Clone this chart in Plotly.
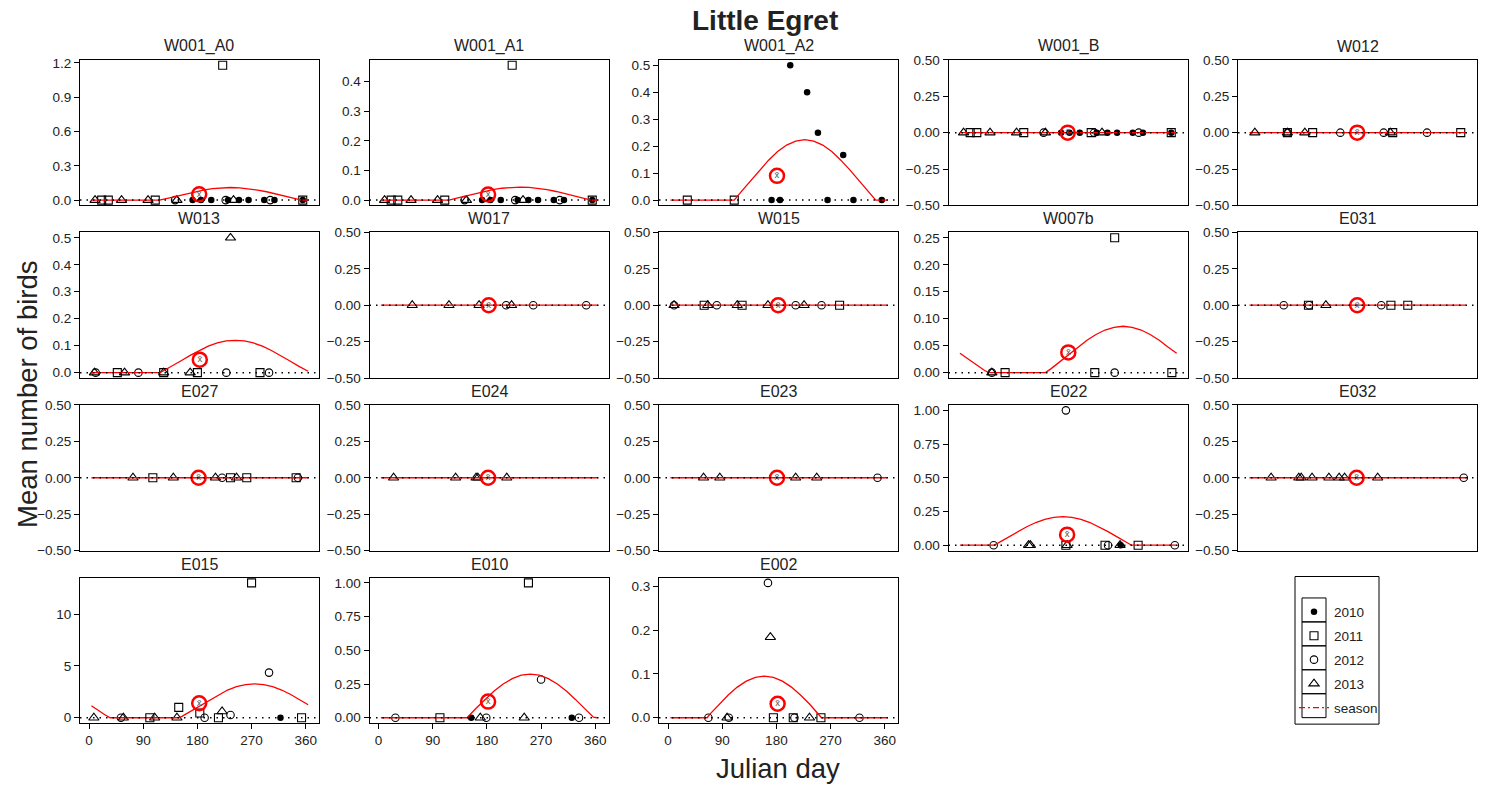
import plotly.graph_objects as go

# ---------------- data ----------------
sites = ["W001_A0", "W001_A1", "W001_A2", "W001_B", "W012",
         "W013", "W017", "W015", "W007b", "E031",
         "E027", "E024", "E023", "E022", "E032",
         "E015", "E010", "E002"]

years = ["2010", "2011", "2012", "2013"]

day_2010 = [
    [172, 186, 203, 231, 249, 265, 291, 308, 355],
    [172, 186, 203, 231, 249, 265, 291, 308, 355],
    [172, 186, 203, 231, 249, 265, 291, 308, 355],
    [172, 186, 203, 231, 249, 265, 291, 308, 355],
    [], [], [], [], [], [], [], [], [],
    [271],
    [],
    [318],
    [154, 321],
    [],
]
val_2010 = [
    [0, 0, 0, 0, 0, 0, 0, 0, 0],
    [0, 0, 0, 0, 0, 0, 0, 0, 0],
    [0, 0, 0.5, 0.4, 0.25, 0, 0.167, 0, 0],
    [0, 0, 0, 0, 0, 0, 0, 0, 0],
    [], [], [], [], [], [], [], [], [],
    [0],
    [],
    [0],
    [0, 0],
    [],
]

day_2011 = [
    [21, 32, 110, 222, 355],
    [21, 32, 110, 222, 355],
    [32, 110],
    [21, 32, 110, 222, 355],
    [67, 109, 242, 355],
    [47, 124, 180, 284],
    [],
    [60, 123, 285],
    [79, 228, 261, 356],
    [102, 239, 267],
    [106, 235, 262, 344],
    [],
    [],
    [180, 245, 300],
    [],
    [101, 149, 184, 215, 270, 353],
    [102, 249],
    [175, 208, 254],
]
val_2011 = [
    [0, 0, 0, 1.18, 0],
    [0, 0, 0, 0.455, 0],
    [0, 0],
    [0, 0, 0, 0, 0],
    [0, 0, 0, 0],
    [0, 0, 0, 0],
    [],
    [0, 0, 0],
    [0, 0, 0.25, 0],
    [0, 0, 0],
    [0, 0, 0, 0],
    [],
    [],
    [0, 0, 0],
    [],
    [0, 1.0, 0.45, 0, 13.0, 0],
    [0, 1.0],
    [0, 0, 0],
]

day_2012 = [
    [143, 227, 301],
    [143, 227, 301],
    [],
    [143, 227, 301],
    [67, 155, 227, 299],
    [11, 82, 228, 299],
    [212, 257, 345],
    [10, 81, 212, 255],
    [57, 261],
    [61, 103, 223],
    [221, 347],
    [],
    [348],
    [60, 180, 250, 361],
    [360],
    [53, 192, 235, 299],
    [28, 179, 270, 333],
    [67, 101, 166, 210, 318],
]
val_2012 = [
    [0, 0, 0],
    [0, 0, 0],
    [],
    [0, 0, 0],
    [0, 0, 0, 0],
    [0, 0, 0, 0],
    [0, 0, 0],
    [0, 0, 0, 0],
    [0, 0],
    [0, 0, 0],
    [0, 0],
    [],
    [0],
    [0, 1.0, 0, 0],
    [0],
    [0, 0, 0.26, 4.35],
    [0, 0, 0.284, 0],
    [0, 0, 0.308, 0, 0],
]

day_2013 = [
    [10, 54, 98, 146, 240],
    [10, 54, 98, 146, 240],
    [],
    [10, 54, 98, 146, 240],
    [13, 67, 96, 238],
    [9, 59, 124, 168, 235],
    [56, 117, 167, 221],
    [10, 66, 115, 166, 226],
    [57],
    [131],
    [73, 140, 210, 245],
    [25, 128, 162, 165, 213],
    [59, 86, 212, 247],
    [118, 121, 182, 270],
    [40, 86, 90, 108, 136, 153, 162, 217],
    [8, 57, 109, 146, 221],
    [169, 242],
    [98, 170, 235],
]
val_2013 = [
    [0, 0, 0, 0, 0],
    [0, 0, 0, 0, 0],
    [],
    [0, 0, 0, 0, 0],
    [0, 0, 0, 0],
    [0, 0, 0, 0, 0.5],
    [0, 0, 0, 0],
    [0, 0, 0, 0, 0],
    [0],
    [0],
    [0, 0, 0, 0],
    [0, 0, 0, 0, 0],
    [0, 0, 0, 0],
    [0, 0, 0, 0],
    [0, 0, 0, 0, 0, 0, 0, 0],
    [0, 0, 0, 0, 0.6],
    [0, 0],
    [0, 0.184, 0],
]

season_day = [
    [4, 117, 130, 145, 160, 175, 190, 205, 220, 235, 250, 265, 280, 295, 310, 325, 340, 353, 364],
    [4, 117, 130, 145, 160, 175, 190, 205, 220, 235, 250, 265, 280, 295, 310, 325, 340, 353, 364],
    [4, 110, 122, 137, 152, 167, 182, 197, 212, 227, 242, 257, 272, 287, 302, 317, 332, 345, 364],
    [4, 364],
    [4, 364],
    [4, 118, 123, 138, 153, 168, 183, 198, 213, 228, 243, 258, 273, 288, 303, 318, 333, 348, 364],
    [4, 364],
    [4, 364],
    [4, 15, 30, 45, 52, 146, 155, 170, 185, 200, 215, 230, 245, 260, 275, 290, 305, 320, 335, 350, 364],
    [4, 364],
    [4, 364],
    [4, 364],
    [4, 364],
    [4, 61, 70, 85, 100, 115, 130, 145, 160, 175, 190, 205, 220, 235, 250, 265, 280, 289, 364],
    [4, 364],
    [4, 15, 25, 35, 150, 155, 170, 185, 200, 215, 230, 245, 260, 275, 290, 305, 320, 335, 350, 364],
    [4, 147, 162, 177, 192, 207, 222, 237, 252, 267, 282, 297, 312, 327, 342, 357, 363],
    [4, 65, 70, 85, 100, 115, 130, 145, 160, 175, 190, 205, 220, 235, 250, 255, 364],
]
season_val = [
    [0, 0, 0.016, 0.035, 0.055, 0.073, 0.088, 0.100, 0.107, 0.110, 0.107, 0.100, 0.088, 0.073, 0.055, 0.035, 0.016, 0, 0],
    [0, 0, 0.0064, 0.0142, 0.022, 0.029, 0.0353, 0.040, 0.043, 0.044, 0.043, 0.040, 0.0353, 0.029, 0.022, 0.0142, 0.0064, 0, 0],
    [0, 0, 0.0325, 0.072, 0.112, 0.148, 0.180, 0.204, 0.219, 0.224, 0.219, 0.204, 0.180, 0.148, 0.112, 0.072, 0.0325, 0, 0],
    [0, 0],
    [0, 0],
    [0, 0, 0.006, 0.024, 0.044, 0.064, 0.082, 0.098, 0.110, 0.1175, 0.12, 0.1175, 0.110, 0.098, 0.082, 0.064, 0.044, 0.024, 0.005],
    [0, 0],
    [0, 0],
    [0.036, 0.027, 0.015, 0.004, 0, 0, 0.007, 0.020, 0.0335, 0.047, 0.060, 0.0707, 0.079, 0.084, 0.086, 0.084, 0.079, 0.0707, 0.060, 0.047, 0.036],
    [0, 0],
    [0, 0],
    [0, 0],
    [0, 0],
    [0, 0, 0.0225, 0.0617, 0.101, 0.137, 0.168, 0.192, 0.207, 0.212, 0.207, 0.192, 0.168, 0.137, 0.101, 0.0617, 0.0225, 0, 0],
    [0, 0],
    [1.15, 0.70, 0.33, 0, 0, 0.157, 0.66, 1.20, 1.74, 2.24, 2.67, 3.00, 3.20, 3.27, 3.20, 3.00, 2.67, 2.24, 1.74, 1.25],
    [0, 0, 0.070, 0.136, 0.198, 0.250, 0.290, 0.3155, 0.324, 0.3155, 0.290, 0.250, 0.198, 0.136, 0.070, 0.004, 0],
    [0, 0, 0.009, 0.0314, 0.052, 0.070, 0.0836, 0.092, 0.095, 0.092, 0.0836, 0.070, 0.052, 0.0314, 0.009, 0, 0],
]

mean_day = [183, 182, 181, 183, 183, 184, 183, 183, 184, 183, 182, 182, 181, 182, 182, 183, 182, 182]
mean_val = [0.05, 0.019, 0.09, 0, 0, 0.048, 0, 0, 0.0375, 0, 0, 0, 0, 0.078, 0, 1.4, 0.12, 0.032]

ytick_step = [0.3, 0.1, 0.1, 0.25, 0.25, 0.1, 0.25, 0.25, 0.05, 0.25,
              0.25, 0.25, 0.25, 0.25, 0.25, 5, 0.25, 0.1]
ytick_fmt = [".1f", ".1f", ".1f", ".2f", ".2f", ".1f", ".2f", ".2f", ".2f", ".2f",
             ".2f", ".2f", ".2f", ".2f", ".2f", "d", ".2f", ".1f"]
xtick_vals = [0, 90, 180, 270, 360]
bottom_sites = ["E015", "E010", "E002"]

# ---------------- layout constants ----------------
FIG_W, FIG_H = 1491, 787
COL_LEFT = [80, 369.5, 659, 948.5, 1238]
ROW_TOP = [60, 233, 406, 579]
PANEL_W, PANEL_H = 239, 146
X_RANGE = [-15, 382]
FONT = "Liberation Sans, Arial, sans-serif"
TXT = "#222222"
# vertical placement correction measured from the rendered output
V_OFF, V_SCALE = 7.0, 0.9835


def fx(p):
    return p / FIG_W


def fy(p):
    return 1 - ((p - V_OFF) / V_SCALE) / FIG_H


year_days = {"2010": day_2010, "2011": day_2011, "2012": day_2012, "2013": day_2013}
year_vals = {"2010": val_2010, "2011": val_2011, "2012": val_2012, "2013": val_2013}
marker_style = {
    "2010": dict(symbol="circle", size=6.5, color="black", line=dict(width=0)),
    "2011": dict(symbol="square-open", size=8, color="black", line=dict(width=1.1, color="black")),
    "2012": dict(symbol="circle-open", size=7.5, color="black", line=dict(width=1.1, color="black")),
    "2013": dict(symbol="triangle-up-open", size=9, color="black", line=dict(width=1.1, color="black")),
}

fig = go.Figure()
shapes = []
annotations = []
axes = {}

for i, site in enumerate(sites):
    r, c = divmod(i, 5)
    k = "" if i == 0 else str(i + 1)
    xa, ya = "x" + k, "y" + k
    left, top = COL_LEFT[c], ROW_TOP[r]

    # year markers
    for yr in years:
        d = year_days[yr][i]
        v = year_vals[yr][i]
        fig.add_trace(go.Scatter(
            x=d if d else [None], y=v if v else [None], mode="markers",
            marker=marker_style[yr], name=yr, legendgroup=yr,
            showlegend=(i == 0), xaxis=xa, yaxis=ya, hoverinfo="skip"))

    # season curve
    fig.add_trace(go.Scatter(
        x=season_day[i], y=season_val[i], mode="lines",
        line=dict(color="#ff0000", width=1.3), showlegend=False,
        xaxis=xa, yaxis=ya, hoverinfo="skip"))

    # mean marker
    fig.add_trace(go.Scatter(
        x=[mean_day[i]], y=[mean_val[i]], mode="markers+text",
        marker=dict(symbol="circle-open", size=14, color="#ff0000",
                    line=dict(width=2.5, color="#ff0000")),
        text=["x\u0304"], textposition="middle center",
        textfont=dict(size=9.5, color="#555555", family=FONT),
        showlegend=False, xaxis=xa, yaxis=ya, hoverinfo="skip"))

    # y range
    allv = [v for yr in years for v in year_vals[yr][i]] + season_val[i] + [mean_val[i]]
    ymax = max(allv)
    if ymax == 0:
        yrange = [-0.500001, 0.500001]
    else:
        yrange = [-0.04 * ymax, 1.04 * ymax]

    is_bottom = site in bottom_sites
    axes["xaxis" + k] = dict(
        domain=[fx(left), fx(left + PANEL_W)], range=X_RANGE, anchor=ya,
        showline=True, mirror=True, linecolor="black", linewidth=1,
        showgrid=False, zeroline=False,
        ticks="outside" if is_bottom else "", ticklen=5, tickcolor="black",
        tickvals=xtick_vals, showticklabels=is_bottom,
        tickfont=dict(size=13.5, color=TXT, family=FONT))
    axes["yaxis" + k] = dict(
        domain=[fy(top + PANEL_H), fy(top)], range=yrange, anchor=xa,
        showline=True, mirror=True, linecolor="black", linewidth=1,
        showgrid=False, zeroline=False,
        ticks="outside", ticklen=5, tickcolor="black",
        dtick=ytick_step[i], tick0=0, tickformat=ytick_fmt[i],
        tickfont=dict(size=13.5, color=TXT, family=FONT))

    # dotted zero reference line
    shapes.append(dict(type="line", xref=xa + " domain", yref=ya,
                       x0=0, x1=1, y0=0, y1=0, layer="above",
                       line=dict(color="black", width=1.5, dash="1.5px,5px")))

    annotations.append(dict(text=site, x=fx(left + PANEL_W / 2), y=fy(top - 3),
                            xref="paper", yref="paper", xanchor="center", yanchor="bottom",
                            showarrow=False, font=dict(size=16, color=TXT, family=FONT)))

# legend-only season entry
fig.add_trace(go.Scatter(x=[None], y=[None], mode="lines", name="season",
                         legendgroup="season",
                         line=dict(color="#ff0000", width=1.3, dash="6px,3px,2px,3px"),
                         xaxis="x", yaxis="y"))

# titles
annotations.append(dict(text="<b>Little Egret</b>", x=fx(765), y=fy(21), xref="paper", yref="paper",
                        xanchor="center", yanchor="middle", showarrow=False,
                        font=dict(size=28, color=TXT, family=FONT)))
annotations.append(dict(text="Mean number of birds", x=fx(28), y=fy(395), xref="paper", yref="paper",
                        xanchor="center", yanchor="middle", textangle=-90, showarrow=False,
                        font=dict(size=27.5, color=TXT, family=FONT)))
annotations.append(dict(text="Julian day", x=fx(778), y=fy(770), xref="paper", yref="paper",
                        xanchor="center", yanchor="middle", showarrow=False,
                        font=dict(size=27.5, color=TXT, family=FONT)))

# legend frame boxes
shapes.append(dict(type="rect", xref="paper", yref="paper",
                   x0=fx(1295), x1=fx(1379), y0=fy(726), y1=fy(578),
                   line=dict(color="black", width=1), layer="above"))
for j in range(5):
    shapes.append(dict(type="rect", xref="paper", yref="paper",
                       x0=fx(1302), x1=fx(1326), y0=fy(623.5 + 24 * j), y1=fy(599.5 + 24 * j),
                       line=dict(color="black", width=1), layer="above"))

fig.update_layout(
    width=FIG_W, height=FIG_H, margin=dict(l=0, r=0, t=0, b=0),
    paper_bgcolor="white", plot_bgcolor="white",
    font=dict(family=FONT, color=TXT),
    shapes=shapes, annotations=annotations,
    legend=dict(x=fx(1294), y=fy(598), xanchor="left", yanchor="top",
                bgcolor="rgba(0,0,0,0)", borderwidth=0, tracegroupgap=3.4,
                font=dict(size=13.5, color=TXT, family=FONT)),
    **axes,
)

fig.write_html("out.html")
